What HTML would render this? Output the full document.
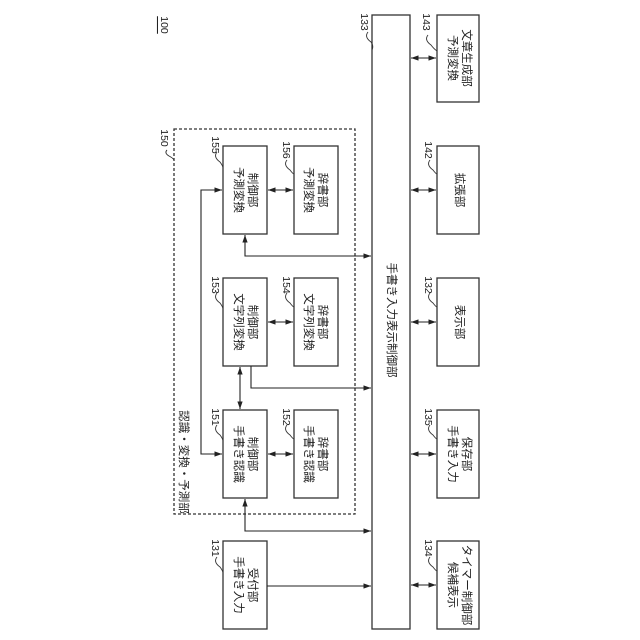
<!DOCTYPE html>
<html><head><meta charset="utf-8"><style>
html,body{margin:0;padding:0;background:#fff}
svg{display:block}
text{font-family:"Liberation Sans","Noto Sans CJK JP",sans-serif;fill:#222}
</style></head><body>
<svg width="640" height="640" viewBox="0 0 640 640" xmlns="http://www.w3.org/2000/svg">
<defs>
<marker id="a" viewBox="0 0 10 10" refX="10" refY="5" markerWidth="7" markerHeight="7" orient="auto-start-reverse"><path d="M0,1.5L10,5L0,8.5z" fill="#222"/></marker>
</defs>
<g fill="none" stroke="#333" stroke-width="1.3">
<rect x="372" y="15" width="38" height="614"/>
<rect x="437" y="15" width="42" height="87"/>
<rect x="437" y="146" width="42" height="88"/>
<rect x="437" y="278" width="42" height="88"/>
<rect x="437" y="410" width="42" height="88"/>
<rect x="437" y="541" width="42" height="88"/>
<rect x="174" y="129" width="181" height="385" stroke-dasharray="3,2"/>
<rect x="223" y="146" width="44" height="88"/>
<rect x="223" y="278" width="44" height="88"/>
<rect x="223" y="410" width="44" height="88"/>
<rect x="223" y="541" width="44" height="88"/>
<rect x="294" y="146" width="44" height="88"/>
<rect x="294" y="278" width="44" height="88"/>
<rect x="294" y="410" width="44" height="88"/>
</g>
<g stroke="#222" stroke-width="1.1" fill="none">
<line x1="411" y1="58" x2="436" y2="58" marker-start="url(#a)" marker-end="url(#a)"/>
<line x1="411" y1="190" x2="436" y2="190" marker-start="url(#a)" marker-end="url(#a)"/>
<line x1="411" y1="322" x2="436" y2="322" marker-start="url(#a)" marker-end="url(#a)"/>
<line x1="411" y1="454" x2="436" y2="454" marker-start="url(#a)" marker-end="url(#a)"/>
<line x1="411" y1="585" x2="436" y2="585" marker-start="url(#a)" marker-end="url(#a)"/>
<line x1="268" y1="190" x2="293" y2="190" marker-start="url(#a)" marker-end="url(#a)"/>
<line x1="268" y1="322" x2="293" y2="322" marker-start="url(#a)" marker-end="url(#a)"/>
<line x1="268" y1="454" x2="293" y2="454" marker-start="url(#a)" marker-end="url(#a)"/>
<line x1="240" y1="367" x2="240" y2="409" marker-start="url(#a)" marker-end="url(#a)"/>
<path d="M222,190 H201 V454 H222" marker-start="url(#a)" marker-end="url(#a)"/>
<path d="M245,235 V256 H371" marker-start="url(#a)" marker-end="url(#a)"/>
<path d="M251,366 V388 H371" marker-end="url(#a)"/>
<path d="M245,499 V531 H371" marker-start="url(#a)" marker-end="url(#a)"/>
<path d="M267,586 H371" marker-end="url(#a)"/>
</g>
<g stroke="#333" stroke-width="0.9" fill="none">
<path d="M368,32 q-4,5 3,10 q3,4 1,8"/>
<path d="M428,35 q-4,5 3,10 q3,4 6,6"/>
<path d="M167,150 q-3,3 2,6 q4,2 5,4"/>
<path d="M217,152 q-4,5 3,10 q3,4 3,6"/>
<path d="M287,160 q-4,5 3,10 q3,4 4,4"/>
<path d="M430,160 q-4,5 3,10 q3,4 4,4"/>
<path d="M217,293 q-4,5 3,10 q3,4 3,6"/>
<path d="M287,293 q-4,5 3,10 q3,4 4,4"/>
<path d="M430,293 q-4,5 3,10 q3,4 4,4"/>
<path d="M217,425 q-4,5 3,10 q3,4 3,6"/>
<path d="M287,425 q-4,5 3,10 q3,4 4,4"/>
<path d="M430,425 q-4,5 3,10 q3,4 4,4"/>
<path d="M217,557 q-4,5 3,10 q3,4 3,6"/>
<path d="M430,557 q-4,5 3,10 q3,4 4,4"/>
</g>
<g font-size="10.5">
<text transform="translate(164,25) rotate(90)" text-anchor="middle" dominant-baseline="central" text-decoration="underline">100</text>
<text transform="translate(364,22) rotate(90)" text-anchor="middle" dominant-baseline="central">133</text>
<text transform="translate(426,22) rotate(90)" text-anchor="middle" dominant-baseline="central">143</text>
<text transform="translate(164,138) rotate(90)" text-anchor="middle" dominant-baseline="central">150</text>
<text transform="translate(215,145) rotate(90)" text-anchor="middle" dominant-baseline="central">155</text>
<text transform="translate(286,150) rotate(90)" text-anchor="middle" dominant-baseline="central">156</text>
<text transform="translate(428,150) rotate(90)" text-anchor="middle" dominant-baseline="central">142</text>
<text transform="translate(215,285) rotate(90)" text-anchor="middle" dominant-baseline="central">153</text>
<text transform="translate(286,285) rotate(90)" text-anchor="middle" dominant-baseline="central">154</text>
<text transform="translate(428,285) rotate(90)" text-anchor="middle" dominant-baseline="central">132</text>
<text transform="translate(215,417) rotate(90)" text-anchor="middle" dominant-baseline="central">151</text>
<text transform="translate(286,417) rotate(90)" text-anchor="middle" dominant-baseline="central">152</text>
<text transform="translate(428,417) rotate(90)" text-anchor="middle" dominant-baseline="central">135</text>
<text transform="translate(215,548) rotate(90)" text-anchor="middle" dominant-baseline="central">131</text>
<text transform="translate(428,548) rotate(90)" text-anchor="middle" dominant-baseline="central">134</text>
</g>
<g font-size="11.5" text-anchor="middle" dominant-baseline="central">
<text transform="translate(391,320) rotate(90)">手書き入力表示制御部</text>
<text transform="translate(183,462) rotate(90)">認識・変換・予測部</text>
<text transform="translate(238,190) rotate(90)">予測変換</text>
<text transform="translate(252,190) rotate(90)">制御部</text>
<text transform="translate(308,190) rotate(90)">予測変換</text>
<text transform="translate(322,190) rotate(90)">辞書部</text>
<text transform="translate(238,322) rotate(90)">文字列変換</text>
<text transform="translate(252,322) rotate(90)">制御部</text>
<text transform="translate(308,322) rotate(90)">文字列変換</text>
<text transform="translate(322,322) rotate(90)">辞書部</text>
<text transform="translate(238,454) rotate(90)">手書き認識</text>
<text transform="translate(252,454) rotate(90)">制御部</text>
<text transform="translate(308,454) rotate(90)">手書き認識</text>
<text transform="translate(322,454) rotate(90)">辞書部</text>
<text transform="translate(238,585) rotate(90)">手書き入力</text>
<text transform="translate(252,585) rotate(90)">受付部</text>
<text transform="translate(452,58) rotate(90)">予測変換</text>
<text transform="translate(466,58) rotate(90)">文章生成部</text>
<text transform="translate(459,190) rotate(90)">拡張部</text>
<text transform="translate(459,322) rotate(90)">表示部</text>
<text transform="translate(452,454) rotate(90)">手書き入力</text>
<text transform="translate(466,454) rotate(90)">保存部</text>
<text transform="translate(452,585) rotate(90)">候補表示</text>
<text transform="translate(466,585) rotate(90)">タイマー制御部</text>
</g>
</svg>
</body></html>
